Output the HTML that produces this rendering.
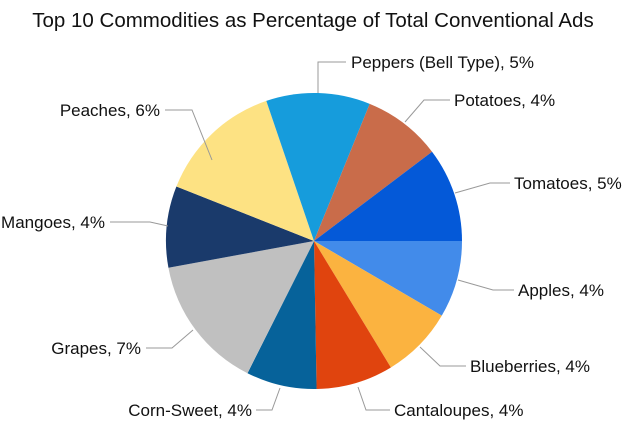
<!DOCTYPE html>
<html><head><style>body{margin:0;background:#fff}svg{display:block}text{font-family:"Liberation Sans",sans-serif;font-size:17px;fill:#111}</style></head>
<body>
<svg width="626" height="435" viewBox="0 0 626 435" xmlns="http://www.w3.org/2000/svg">
<text x="313" y="27" text-anchor="middle" style="font-size:20.5px">Top 10 Commodities as Percentage of Total Conventional Ads</text>
<g id="pie"></g>
<g stroke="#999" fill="none" stroke-width="1">
<polyline points="318,93 318,62 346,62"/>
<polyline points="405,122 424,100 450,100"/>
<polyline points="455,193 490,183 510,183"/>
<polyline points="458,280 493,290 514,290"/>
<polyline points="420,347 440,366 466,366"/>
<polyline points="358,387 366,410 390,410"/>
<polyline points="280,388 272,410 256,410"/>
<polyline points="193,330 172,348 146,348"/>
<polyline points="168,226 150,222 110,222"/>
<polyline points="212,160 192,110 165,110"/>
</g>
<text x="351" y="68">Peppers (Bell Type), 5%</text>
<text x="454" y="106">Potatoes, 4%</text>
<text x="514" y="189">Tomatoes, 5%</text>
<text x="518" y="296">Apples, 4%</text>
<text x="470" y="372">Blueberries, 4%</text>
<text x="394" y="416">Cantaloupes, 4%</text>
<text x="252" y="416" text-anchor="end">Corn-Sweet, 4%</text>
<text x="141" y="354" text-anchor="end">Grapes, 7%</text>
<text x="105" y="228" text-anchor="end">Mangoes, 4%</text>
<text x="160" y="116" text-anchor="end">Peaches, 6%</text>
</svg>
<script>
var cx=314,cy=241,r=148;
var b=[0,30.3,58.7,89,116.7,169.6,201.6,251.2,292.1,322.9,360];
var c=["#428bea","#fbb340","#e0440e","#06629a","#c0c0c0","#1a3a6b","#fde283","#169cdc","#c96c4a","#0459d8"];
var g=document.getElementById("pie"),s="";
function p(a){a*=Math.PI/180;return (cx+r*Math.cos(a)).toFixed(2)+","+(cy+r*Math.sin(a)).toFixed(2);}
for(var i=0;i<10;i++){var l=b[i+1]-b[i]>180?1:0;s+='<path d="M'+cx+','+cy+' L'+p(b[i])+' A'+r+','+r+' 0 '+l+' 1 '+p(b[i+1])+' Z" fill="'+c[i]+'"/>';}
g.innerHTML=s;
</script>
</body></html>
